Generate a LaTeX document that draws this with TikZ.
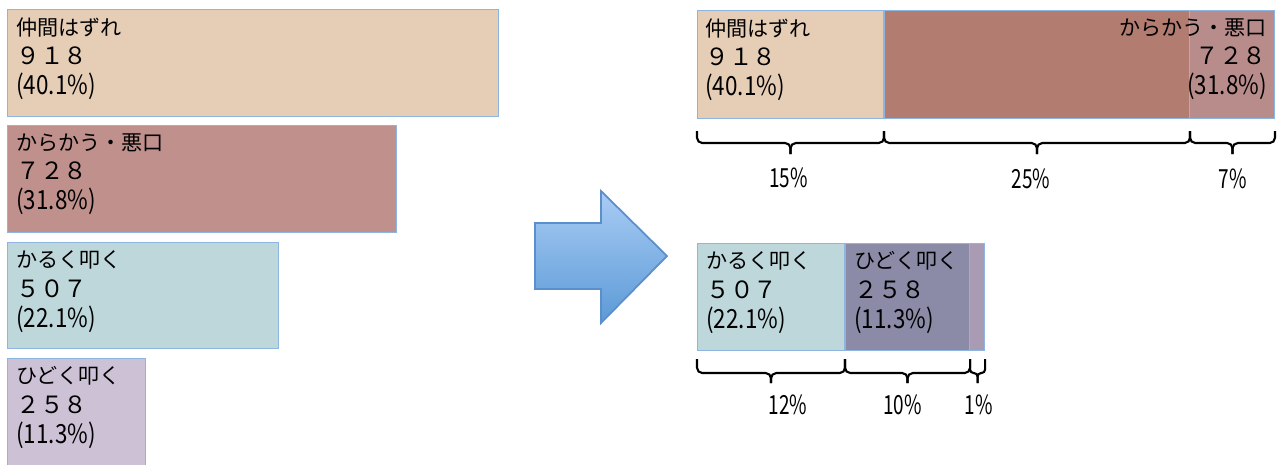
\documentclass[tikz,border=0pt]{standalone}
\usepackage{fontspec}
\setmainfont{Noto Sans CJK JP}
\newfontfamily\narrowfont[FakeStretch=0.72]{Noto Sans CJK JP}
\newfontfamily\parenfont[FakeStretch=0.85]{Noto Sans CJK JP}
\usetikzlibrary{positioning, calc}

\definecolor{nakaC}{HTML}{E6CDB6}
\definecolor{karaC}{HTML}{BF908C}
\definecolor{karaDark}{HTML}{B37C71}
\definecolor{karaSide}{HTML}{B98C8C}
\definecolor{karuC}{HTML}{BDD7DB}
\definecolor{hidoC}{HTML}{CCC1D5}
\definecolor{hidoDark}{HTML}{8B8BA8}
\definecolor{hidoSide}{HTML}{AA9BB4}
\definecolor{edgeC}{HTML}{8EB4E0}
\definecolor{arrowTop}{HTML}{A9CCF5}
\definecolor{arrowBot}{HTML}{5C9AD6}
\definecolor{arrowEdge}{HTML}{5A8FCB}

\tikzset{
    bar/.style={draw=edgeC, line width=0.6pt, inner sep=0pt, anchor=north west},
    bartext/.style={anchor=north west, align=left, inner sep=0pt,
        font=\fontsize{12}{17}\selectfont},
    pct/.style={font=\narrowfont\fontsize{15}{15}\selectfont, inner sep=0pt},
    bracket/.style={draw, line width=1.2pt, rounded corners=3pt},
}
\newcommand{\numline}[1]{{\fontsize{13.5}{17}\selectfont #1}}
\newcommand{\pctline}[1]{{\parenfont\fontsize{15}{17}\selectfont #1}}

\begin{document}
\begin{tikzpicture}[x=0.02cm, y=-0.02cm]
\useasboundingbox (0,0) rectangle (1279,464);

% left: the four categories
\node[bar, fill=nakaC,
        minimum width=9.82cm,
        minimum height=2.14cm] (naka) at (7,9) {};
\node[bar, fill=karaC,
        minimum width=7.78cm,
        minimum height=2.14cm] (kara) at (7,125) {};
\node[bar, fill=karuC,
        minimum width=5.42cm,
        minimum height=2.12cm] (karu) at (7,242) {};
\node[bar, fill=hidoC,
        minimum width=2.76cm,
        minimum height=2.3cm] (hido) at (7,358) {};

\node[bartext] (nakaT) at ($(naka.north west) + (9, 8)$) {仲間はずれ\\\numline{９１８}\\\pctline{(40.1\%)}};
\node[bartext] (karaT) at ($(kara.north west) + (9, 8)$) {からかう・悪口\\\numline{７２８}\\\pctline{(31.8\%)}};
\node[bartext] (karuT) at ($(karu.north west) + (9, 8)$) {かるく叩く\\\numline{５０７}\\\pctline{(22.1\%)}};
\node[bartext] (hidoT) at ($(hido.north west) + (9, 8)$) {ひどく叩く\\\numline{２５８}\\\pctline{(11.3\%)}};

% block arrow
\draw[arrowEdge, line width=1pt, top color=arrowTop, bottom color=arrowBot]
    (535,223) -- (601,223) -- (601,191) -- (667,256)
    -- (601,323) -- (601,289) -- (535,289) -- cycle;

% right, upper bar
\node[bar, fill=nakaC,
        minimum width=3.72cm,
        minimum height=2.16cm] (rnaka) at (697,10) {};
\node[bar, fill=karaSide,
        minimum width=7.8cm,
        minimum height=2.16cm] (rkara) at (rnaka.north east) {};
\node[bar, fill=karaDark,
        minimum width=6.1cm,
        minimum height=2.16cm] (rkaraIn) at (rnaka.north east) {};

\node[bartext] (rnakaT) at ($(rnaka.north west) + (8, 8)$) {仲間はずれ\\\numline{９１８}\\\pctline{(40.1\%)}};
\node[bartext, anchor=north east, align=right] (rkaraT)
    at ($(rkara.north east) + (-8, 8)$) {からかう・悪口\\\numline{７２８}\\\pctline{(31.8\%)}};

% right, lower bar
\node[bar, fill=karuC,
        minimum width=2.94cm,
        minimum height=2.14cm] (rkaru) at (697,243) {};
\node[bar, fill=hidoSide,
        minimum width=2.78cm,
        minimum height=2.14cm] (rhido) at (rkaru.north east) {};
\node[bar, fill=hidoDark,
        minimum width=2.48cm,
        minimum height=2.14cm] (rhidoIn) at (rkaru.north east) {};

\node[bartext] (rkaruT) at ($(rkaru.north west) + (9, 8)$) {かるく叩く\\\numline{５０７}\\\pctline{(22.1\%)}};
\node[bartext] (rhidoT) at ($(rhido.north west) + (9, 8)$) {ひどく叩く\\\numline{２５８}\\\pctline{(11.3\%)}};

% brackets under the upper bar
\draw[bracket] ($(rnaka.south west) + (0, 12)$) |- ($(rnaka.south) + (0, 24)$) coordinate (t1) --++ (0, 11);
\draw[bracket] ($(rnaka.south east) + (0, 12)$) |- (t1) --++ (0, 11);
\draw[bracket] ($(rkaraIn.south west) + (0, 12)$) |- ($(rkaraIn.south) + (0, 24)$) coordinate (t2) --++ (0, 11);
\draw[bracket] ($(rkaraIn.south east) + (0, 12)$) |- (t2) --++ (0, 11);
\draw[bracket] ($(rkaraIn.south east) + (0, 12)$) |- ($(rkaraIn.south east)!0.5!(rkara.south east) + (0, 24)$) coordinate (t3) --++ (0, 11);
\draw[bracket] ($(rkara.south east) + (0, 12)$) |- (t3) --++ (0, 11);

\node[pct] (p15) at ($(t1) + (-2, 35)$) {15\%};
\node[pct] (p25) at ($(t2) + (-6, 36)$) {25\%};
\node[pct] (p7) at ($(t3) + (0, 36)$) {7\%};

% brackets under the lower bar
\draw[bracket] ($(rkaru.south west) + (0, 8)$) |- ($(rkaru.south) + (0, 22)$) coordinate (t4) --++ (0, 10);
\draw[bracket] ($(rkaru.south east) + (0, 8)$) |- (t4) --++ (0, 10);
\draw[bracket] ($(rhidoIn.south west) + (0, 8)$) |- ($(rhidoIn.south) + (0, 22)$) coordinate (t5) --++ (0, 10);
\draw[bracket] ($(rhidoIn.south east) + (0, 8)$) |- (t5) --++ (0, 10);
\draw[bracket, rounded corners=2pt] ($(rhidoIn.south east) + (0, 8)$) |- ($(rhidoIn.south east)!0.5!(rhido.south east) + (0, 22)$) coordinate (t6) --++ (0, 10);
\draw[bracket, rounded corners=2pt] ($(rhido.south east) + (0, 8)$) |- (t6) --++ (0, 10);

\node[pct] (p12) at ($(t4) + (17, 32)$) {12\%};
\node[pct] (p10) at ($(t5) + (-5, 32)$) {10\%};
\node[pct] (p1) at ($(t6) + (1, 32)$) {1\%};

\end{tikzpicture}
\end{document}
